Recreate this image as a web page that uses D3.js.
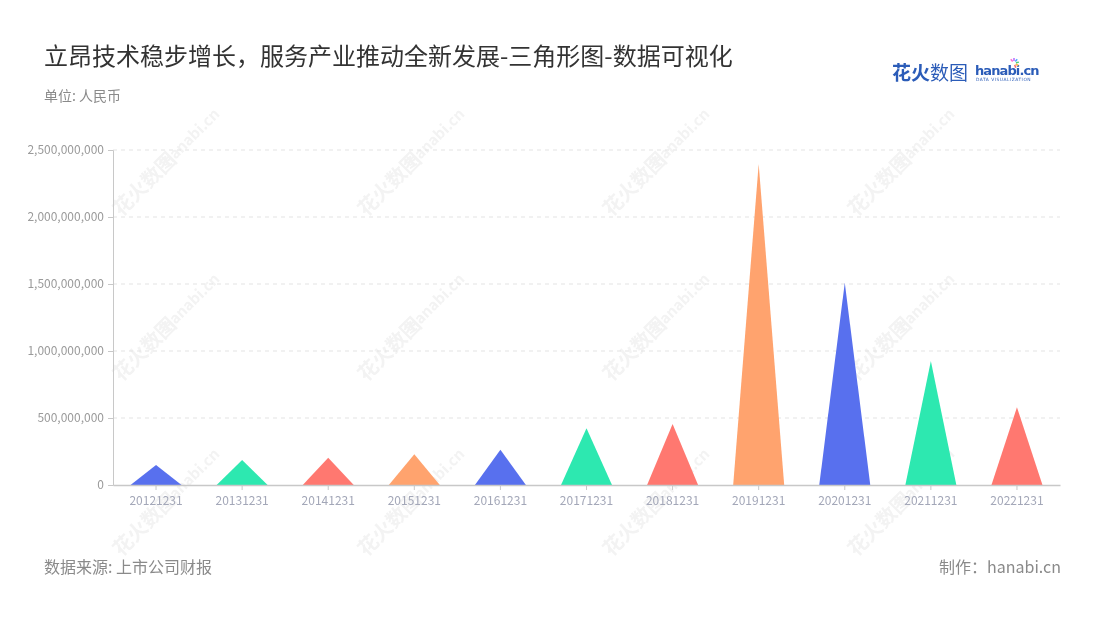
<!DOCTYPE html>
<html><head><meta charset="utf-8">
<script src="https://cdn.jsdelivr.net/npm/d3@7"></script>
<style>body{margin:0;background:#fff;font-family:"Noto Sans CJK SC","Noto Sans",sans-serif;}</style>
</head><body><svg id="c" width="1100" height="620"></svg>
<script>
const categories = ["20121231","20131231","20141231","20151231","20161231","20171231","20181231","20191231","20201231","20211231","20221231"];
const values = [149000000,187000000,204000000,229000000,263000000,423000000,455000000,2395000000,1510000000,925000000,580000000];
const yTicks = [0,500000000,1000000000,1500000000,2000000000,2500000000];
const palette = ["#5870ee","#2de8b0","#ff7870","#ffa36e"];
const title = "立昂技术稳步增长，服务产业推动全新发展-三角形图-数据可视化";
const subtitle = "单位: 人民币";
const source = "数据来源: 上市公司财报";
const credit = "制作：hanabi.cn";

const svg = d3.select("#c");
const font = '"Noto Sans CJK SC","Noto Sans",sans-serif';
const m = {l:113, r:1060, t:150, b:485};

const x = d3.scaleBand().domain(categories).range([m.l, m.r]);
const y = d3.scaleLinear().domain([0, 2500000000]).range([m.b, m.t]);

// watermarks
const wm = svg.append("g").attr("opacity",0.06);
[[165,165],[410,165],[655,165],[900,165],[165,330],[410,330],[655,330],[900,330],[165,505],[410,505],[655,505],[900,505]].forEach(([cx,cy])=>{
  const g = wm.append("g").attr("transform",`translate(${cx},${cy}) rotate(-45)`);
  g.append("text").attr("x",-28).attr("y",6).attr("text-anchor","middle").attr("font-size",20).attr("font-weight","bold").attr("fill","#333").attr("font-family",font).text("花火数图");
  g.append("text").attr("x",38).attr("y",4).attr("text-anchor","middle").attr("font-size",15).attr("font-weight","bold").attr("fill","#333").attr("font-family",font).text("hanabi.cn");
});

// grid
svg.append("g").selectAll("line").data(yTicks.slice(1)).join("line")
  .attr("x1",m.l).attr("x2",m.r).attr("y1",d=>y(d)).attr("y2",d=>y(d))
  .attr("stroke","#e3e3e3").attr("stroke-dasharray","4,4");

// y axis
const ya = svg.append("g").attr("transform",`translate(${m.l},0)`)
  .call(d3.axisLeft(y).tickValues(yTicks).tickFormat(d3.format(",")).tickSize(5).tickPadding(4));
ya.select(".domain").attr("stroke","#c8c8c8");
ya.selectAll(".tick line").attr("stroke","#c8c8c8");
ya.selectAll("text").attr("fill","#9a9a9a").attr("font-size",12).attr("font-family",font);

// triangles
const tw = 51;
svg.append("g").selectAll("path").data(values).join("path")
  .attr("d",(d,i)=>{const cx=x(categories[i])+x.bandwidth()/2;return `M${cx-tw/2},${y(0)}L${cx},${y(d)}L${cx+tw/2},${y(0)}Z`;})
  .attr("fill",(d,i)=>palette[i%4]);

// x axis
const xa = svg.append("g").attr("transform",`translate(0,${m.b})`)
  .call(d3.axisBottom(x).tickSize(5).tickSizeOuter(0).tickPadding(6));
xa.select(".domain").attr("stroke","#c8c8c8").attr("stroke-width",1.5);
xa.selectAll(".tick line").attr("stroke","#c8c8c8");
xa.selectAll("text").attr("fill","#a3a7b8").attr("font-size",12).attr("font-family",font);

// titles
svg.append("text").attr("x",44).attr("y",65).attr("font-size",24).attr("fill","#333").attr("font-family",font).text(title);
svg.append("text").attr("x",44).attr("y",101).attr("font-size",14).attr("fill","#8a8a8a").attr("font-family",font).text(subtitle);
svg.append("text").attr("x",44).attr("y",573).attr("font-size",16).attr("fill","#8a8a8a").attr("font-family",font).text(source);
svg.append("text").attr("x",1061).attr("y",573).attr("text-anchor","end").attr("font-size",16).attr("fill","#8a8a8a").attr("font-family",font).text(credit);

// logo
const lg = svg.append("g");
lg.append("text").attr("x",892).attr("y",80).attr("font-size",19).attr("font-weight","bold").attr("fill","#2b5cb8").attr("font-family",font).text("花火");
lg.append("text").attr("x",930).attr("y",80).attr("font-size",19).attr("fill","#2b5cb8").attr("font-family",font).text("数图");
lg.append("text").attr("x",975).attr("y",75).attr("font-size",13).attr("font-weight","bold").attr("fill","#2b5cb8").attr("font-family","DejaVu Sans").attr("letter-spacing",-0.9).text("hanabi.cn");
lg.append("text").attr("x",976).attr("y",81).attr("font-size",4.4).attr("fill","#2b5cb8").attr("font-family","DejaVu Sans").attr("letter-spacing",0.5).text("DATA VISUALIZATION");
const sp=[["#ff6b6b",-70],["#ffb84d",-30],["#4dd07a",10],["#4da6ff",50],["#b36bff",90],["#ff6bd1",130]];
sp.forEach(([c,a])=>{const r=a*Math.PI/180;lg.append("line").attr("x1",1014+Math.cos(r)*2).attr("y1",63-Math.sin(r)*2).attr("x2",1014+Math.cos(r)*5).attr("y2",63-Math.sin(r)*5).attr("stroke",c).attr("stroke-width",1.5);});
</script></body></html>
